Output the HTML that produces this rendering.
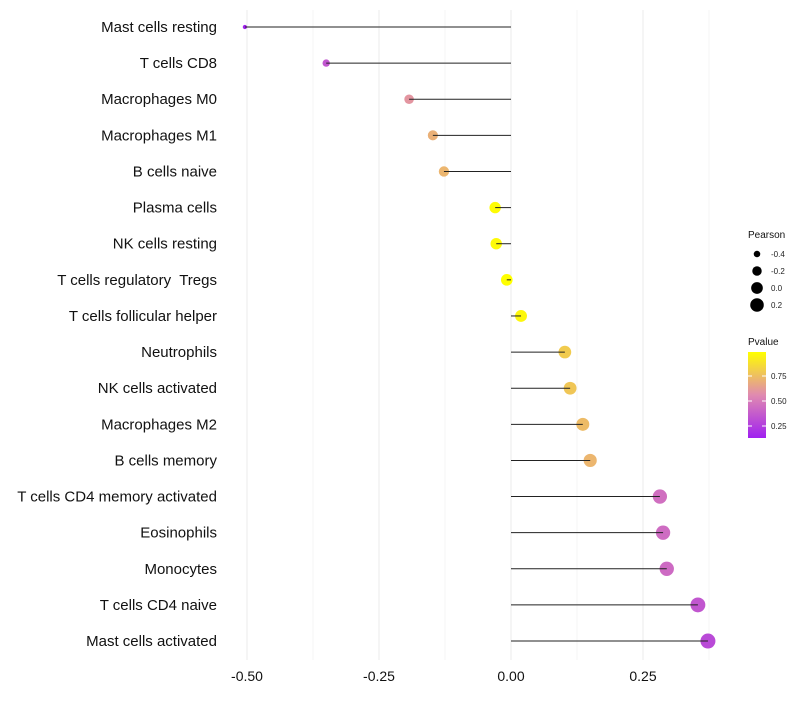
<!DOCTYPE html>
<html><head><meta charset="utf-8"><style>
body{margin:0;background:#fff;font-family:"Liberation Sans",sans-serif}
text{white-space:pre}
</style></head><body>
<svg id="c" width="800" height="700" xmlns="http://www.w3.org/2000/svg"></svg>
<script>
const categories=["Mast cells resting","T cells CD8","Macrophages M0","Macrophages M1","B cells naive","Plasma cells","NK cells resting","T cells regulatory  Tregs","T cells follicular helper","Neutrophils","NK cells activated","Macrophages M2","B cells memory","T cells CD4 memory activated","Eosinophils","Monocytes","T cells CD4 naive","Mast cells activated"];
const pearson=[-0.504,-0.35,-0.193,-0.148,-0.127,-0.03,-0.028,-0.008,0.019,0.102,0.112,0.136,0.150,0.282,0.288,0.295,0.354,0.373];
const pvalues=[0.14,0.35,0.6,0.7,0.72,0.98,0.97,0.99,0.96,0.8,0.78,0.74,0.72,0.45,0.44,0.43,0.35,0.3];
const xTicks=[-0.5,-0.25,0,0.25];
const xTickLabels=["-0.50","-0.25","0.00","0.25"];
const sizeBreaks=[-0.4,-0.2,0.0,0.2];
const pBreaks=[0.75,0.5,0.25];

const NS="http://www.w3.org/2000/svg",svg=document.getElementById('c');
function el(t,a,p){const e=document.createElementNS(NS,t);for(const k in a)e.setAttribute(k,a[k]);(p||svg).appendChild(e);return e;}
const x=v=>511+v*528;
const y=i=>27+i*36.12;
const rad=v=>Math.sqrt(Math.max(1,34.2+58.9*v));
function lerp(a,b,t){return a.map((c,i)=>Math.round(c+(b[i]-c)*t));}
const stops=[[0.13,[160,32,240]],[0.56,[224,138,176]],[0.99,[255,255,0]]];
function col(p){p=Math.max(0.13,Math.min(0.99,p));const s=p<0.56?0:1;const a=stops[s],b=stops[s+1];const c=lerp(a[1],b[1],(p-a[0])/(b[0]-a[0]));return `rgb(${c})`;}
for(let v=-0.5;v<=0.38;v+=0.125){const major=Math.abs(v*8%2)<0.01;const g=el('line',{x1:x(v),x2:x(v),y1:10,y2:660,stroke:major?'#ebebeb':'#f3f3f3','stroke-width':major?1:0.7});
}
xTicks.forEach((v,i)=>{const t=el('text',{x:x(v),y:681,'text-anchor':'middle','font-size':14,fill:'#111'});t.textContent=xTickLabels[i];
});
categories.forEach((c,i)=>{
 const t=el('text',{x:217,y:y(i)+5,'text-anchor':'end','font-size':15,fill:'#111'});t.textContent=c;
 
 const p=el('circle',{cx:x(pearson[i]),cy:y(i),r:rad(pearson[i]),fill:col(pvalues[i])});
 
 const l=el('line',{x1:x(0),x2:x(pearson[i]),y1:y(i),y2:y(i),stroke:'#222','stroke-width':1});
 
});
let t=el('text',{x:748,y:238,'font-size':10,fill:'#111'});t.textContent='Pearson';

sizeBreaks.forEach((v,i)=>{const cy=254+i*17;
 const c=el('circle',{cx:757,cy:cy,r:rad(v),fill:'#000'});
 const tt=el('text',{x:771,y:cy+3,'font-size':8,fill:'#222'});tt.textContent=v.toFixed(1);
 });
t=el('text',{x:748,y:345,'font-size':10,fill:'#111'});t.textContent='Pvalue';

const defs=el('defs',{});const lg=el('linearGradient',{id:'g',x1:0,y1:1,x2:0,y2:0},defs);
[0,0.5,1].forEach((o,i)=>el('stop',{offset:o,'stop-color':`rgb(${stops[i][1]})`},lg));
const r=el('rect',{x:748,y:352,width:18,height:86,fill:'url(#g)'});
pBreaks.forEach(v=>{const yy=352+(0.99-v)*100;
 el('line',{x1:748,x2:752,y1:yy,y2:yy,stroke:'#fff'});el('line',{x1:762,x2:766,y1:yy,y2:yy,stroke:'#fff'});
 const tt=el('text',{x:771,y:yy+3,'font-size':8,fill:'#222'});tt.textContent=v.toFixed(2);
 });
</script>
</body></html>
